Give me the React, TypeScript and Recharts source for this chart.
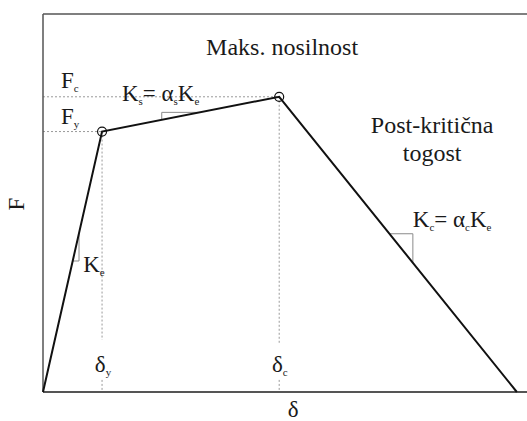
import { LineChart, Line, XAxis, YAxis, ReferenceLine, ReferenceDot } from 'recharts'

// bilinear capacity curve with softening branch
const deltaValues = [0, 12.2, 48.8, 97.9]
const forceValues = [0, 68.9, 78.1, 0]
const pointNames = ['0', 'y', 'c', 'u']

const data = deltaValues.map((d, i) => ({ name: pointNames[i], d, F: forceValues[i] }))

const [, Y, C, U] = data

const SERIF = "'Liberation Serif', 'DejaVu Serif', serif"
const INK = '#1a1a1a'
const FRAME = '#555'
const DASH = '#9a9a9a'

type Part = [string, boolean?]

function Formula({ cx, cy, parts, size = 23, anchor = 'start', rotate }: any) {
  let sub = false
  return (
    <text
      x={cx}
      y={cy}
      fill={INK}
      textAnchor={anchor}
      style={{ fontFamily: SERIF, fontSize: size }}
      transform={rotate ? `rotate(${rotate} ${cx} ${cy})` : undefined}
    >
      {(parts as Part[]).map(([t, s], i) => {
        const isSub = !!s
        const dy = isSub && !sub ? 4 : !isSub && sub ? -4 : 0
        sub = isSub
        return (
          <tspan key={i} dy={dy} style={{ fontSize: isSub ? 11 : size }}>
            {t}
          </tspan>
        )
      })}
    </text>
  )
}

function note(x: number, y: number, parts: Part[], extra: any = {}) {
  return (
    <ReferenceDot
      key={`${x}-${y}`}
      x={x}
      y={y}
      r={0}
      ifOverflow="visible"
      shape={(p: any) => <Formula cx={p.cx} cy={p.cy} parts={parts} {...extra} />}
    />
  )
}

// slope triangle drawn on a segment between fractions t0 and t1
function slopeMark(a: any, b: any, t0: number, t1: number, upper: boolean) {
  const p = { x: a.d + (b.d - a.d) * t0, y: a.F + (b.F - a.F) * t0 }
  const q = { x: a.d + (b.d - a.d) * t1, y: a.F + (b.F - a.F) * t1 }
  const corner = upper ? { x: p.x, y: q.y } : { x: q.x, y: p.y }
  const legs = [
    [p, corner],
    [corner, q],
  ]
  return legs.map((seg, i) => (
    <ReferenceLine
      key={`${t0}-${i}`}
      segment={seg as any}
      stroke="#8a8a8a"
      strokeWidth={1}
      ifOverflow="visible"
    />
  ))
}

const dashed = { stroke: DASH, strokeWidth: 1, strokeDasharray: '2 2', ifOverflow: 'visible' as const }

export default function App() {
  return (
    <div style={{ position: 'absolute', left: 0, top: 0, background: '#fff' }}>
      <LineChart width={527} height={421} data={data} margin={{ top: 14, right: 0, bottom: 29, left: 43 }}>
        <XAxis dataKey="d" type="number" domain={[0, 100]} hide />
        <YAxis type="number" domain={[0, 100]} hide />

        {/* guide lines */}
        <ReferenceLine segment={[{ x: 0, y: C.F }, { x: C.d, y: C.F }]} {...dashed} />
        <ReferenceLine segment={[{ x: 0, y: Y.F }, { x: Y.d, y: Y.F }]} {...dashed} />
        <ReferenceLine segment={[{ x: Y.d, y: Y.F }, { x: Y.d, y: 13.8 }]} {...dashed} />
        <ReferenceLine segment={[{ x: Y.d, y: 3.2 }, { x: Y.d, y: 0 }]} {...dashed} />
        <ReferenceLine segment={[{ x: C.d, y: C.F }, { x: C.d, y: 13.0 }]} {...dashed} />
        <ReferenceLine segment={[{ x: C.d, y: 3.2 }, { x: C.d, y: 0 }]} {...dashed} />

        {/* frame */}
        <ReferenceLine y={100} stroke={FRAME} strokeWidth={1.5} />
        <ReferenceLine x={0} stroke={FRAME} strokeWidth={1.5} />
        <ReferenceLine y={0} stroke={FRAME} strokeWidth={2} />

        {slopeMark(data[0], Y, 0.503, 0.61, false)}
        {slopeMark(Y, C, 0.337, 0.552, true)}
        {slopeMark(C, U, 0.464, 0.5625, false)}

        <Line
          dataKey="F"
          stroke="#111"
          strokeWidth={2}
          dot={false}
          activeDot={false}
          isAnimationActive={false}
        />

        <ReferenceDot x={Y.d} y={Y.F} r={4.5} fill="none" stroke="#111" strokeWidth={1.2} />
        <ReferenceDot x={C.d} y={C.F} r={4.5} fill="none" stroke="#111" strokeWidth={1.2} />

        {note(49.4, 89.2, [['Maks. nosilnost']], { anchor: 'middle', size: 24 })}
        {note(80.4, 68.6, [['Post-kritična']], { anchor: 'middle', size: 24 })}
        {note(80.4, 61.2, [['togost']], { anchor: 'middle', size: 24 })}
        {note(3.7, 80.3, [['F'], ['c', true]])}
        {note(3.7, 70.9, [['F'], ['y', true]])}
        {note(16.3, 77.1, [['K'], ['s', true], ['= α'], ['s', true], ['K'], ['e', true]])}
        {note(8.3, 31.7, [['K'], ['e', true]])}
        {note(76.4, 43.6, [['K'], ['c', true], ['= α'], ['c', true], ['K'], ['e', true]])}
        {note(10.7, 5.4, [['δ'], ['y', true]])}
        {note(47.3, 5.4, [['δ'], ['c', true]])}
        {note(51.7, -6.6, [['δ']], { anchor: 'middle' })}
        {note(-4.0, 49.7, [['F']], { anchor: 'middle', rotate: -90 })}
      </LineChart>
    </div>
  )
}
